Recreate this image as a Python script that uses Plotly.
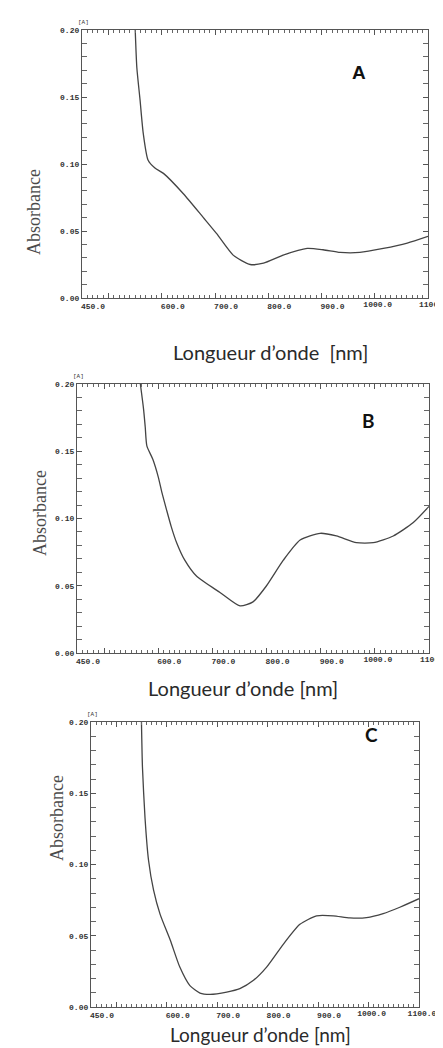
import plotly.graph_objects as go

W, H = 443, 1048
OFF = 8  # the page body adds an 8px margin around the figure

# ---- data ----
wl_A = [550, 553, 559, 565, 574, 587, 603, 640, 678, 703, 734, 766, 791, 828, 873, 903, 935, 972, 1016, 1061, 1100]
abs_A = [0.200, 0.172, 0.148, 0.123, 0.103, 0.097, 0.093, 0.078, 0.060, 0.048, 0.032, 0.025, 0.026, 0.032, 0.037, 0.036, 0.034, 0.034, 0.037, 0.041, 0.046]

wl_B = [567, 573, 576, 579, 590, 600, 607, 615, 624, 634, 649, 671, 714, 751, 775, 800, 831, 862, 899, 929, 966, 997, 1034, 1071, 1100]
abs_B = [0.200, 0.181, 0.168, 0.154, 0.144, 0.131, 0.119, 0.107, 0.094, 0.082, 0.069, 0.057, 0.045, 0.035, 0.038, 0.050, 0.069, 0.084, 0.089, 0.087, 0.082, 0.082, 0.087, 0.097, 0.109]

wl_C = [550, 552, 557, 564, 574, 587, 607, 626, 646, 666, 686, 719, 745, 772, 798, 831, 864, 897, 930, 963, 996, 1029, 1062, 1100]
abs_C = [0.200, 0.168, 0.133, 0.103, 0.082, 0.065, 0.047, 0.028, 0.015, 0.0098, 0.0089, 0.0105, 0.0129, 0.0187, 0.028, 0.044, 0.058, 0.064, 0.064, 0.0625, 0.0627, 0.0655, 0.070, 0.076]

# major ticks; the two right-most labels sit closer to their ticks than the others
x_tickvals = [450, 500, 600, 700, 800, 900, 1000, 1100]
x_ticktext = ["450.0", "", "600.0", "700.0", "800.0", "900.0", "", ""]
x_right_vals = [1000, 1100]
x_right_text_AB = ["1000.0", "1100."]
x_right_text_C = ["1000.0", "1100.0"]
y_tickvals = [0.00, 0.05, 0.10, 0.15, 0.20]
y_ticktext = ["0.00", "0.05", "0.10", "0.15", "0.20"]

panel_labels = ["A", "B", "C"]
x_title = ["Longueur d\u2019onde  [nm]", "Longueur d\u2019onde [nm]", "Longueur d\u2019onde [nm]"]


def fx(px):
    return (px - OFF) / W


def fy(py):
    return 1 - (py - OFF) / H


# ---- layout geometry in page pixels: (left, right, top, bottom) ----
boxes = [(82, 428, 30, 298), (77, 429, 384, 653), (91, 419, 722, 1007)]

fig = go.Figure()
series = [(wl_A, abs_A), (wl_B, abs_B), (wl_C, abs_C)]
tick_font = dict(family="Liberation Mono", size=8, color="#333333", weight="bold")

for i, ((xs, ys), (l, r, t, b)) in enumerate(zip(series, boxes)):
    n = "" if i == 0 else str(i + 1)
    m = str(i + 4)
    fig.add_trace(go.Scatter(x=xs, y=ys, mode="lines", xaxis="x" + n, yaxis="y" + n,
                             line=dict(color="#444444", width=1.3, shape="spline", smoothing=0.6),
                             showlegend=False, hoverinfo="skip"))
    # invisible helper so the overlay label axis gets drawn
    fig.add_trace(go.Scatter(x=x_right_vals, y=[0, 0], mode="markers", xaxis="x" + m, yaxis="y" + n,
                             marker=dict(opacity=0, size=1), showlegend=False, hoverinfo="skip"))
    common = dict(showline=True, linecolor="#555555", linewidth=1.3, mirror="allticks",
                  ticks="inside", ticklen=5, tickcolor="#555555", tickwidth=1, automargin=False,
                  showgrid=False, zeroline=False, tickfont=tick_font)
    fig.layout["xaxis" + n] = dict(
        common, domain=[fx(l), fx(r)], anchor="y" + n, range=[450, 1100],
        tickmode="array", tickvals=x_tickvals, ticktext=x_ticktext,
        ticklabelshift=11,
        minor=dict(dtick=10, ticks="inside", ticklen=2.5, tickcolor="#666666", showgrid=False),
    )
    fig.layout["yaxis" + n] = dict(
        common, domain=[fy(b), fy(t)], anchor="x" + n, range=[0, 0.2],
        tickmode="array", tickvals=y_tickvals, ticktext=y_ticktext,
        minor=dict(dtick=0.01, ticks="inside", ticklen=2.5, tickcolor="#666666", showgrid=False),
    )
    # overlay axis carrying only the two right-most labels
    fig.layout["xaxis" + m] = dict(
        overlaying="x" + n, anchor="y" + n, side="bottom", domain=[fx(l), fx(r)], range=[450, 1100],
        showline=False, ticks="", showgrid=False, zeroline=False, automargin=False,
        tickmode="array", tickvals=x_right_vals,
        ticktext=x_right_text_C if i == 2 else x_right_text_AB,
        ticklabelshift=3, tickfont=tick_font,
    )

annotations = []
absorb_pos = [(22, 167), (28, 513), (45, 863)]
xtitle_pos = [(270, 338), (243, 688), (260, 1021)]
xtitle_size = [20, 20, 19]
letter_pos = [(368, 60), (377, 420), (380, 748)]
for i, (l, r, t, b) in enumerate(boxes):
    annotations.append(dict(x=fx(absorb_pos[i][0]), y=fy(absorb_pos[i][1]), xref="paper", yref="paper",
                            text="Absorbance", textangle=-90, showarrow=False,
                            font=dict(family="Liberation Serif", size=18, color="#4a4a4a")))
    if i == 2:
        annotations.append(dict(x=fx(xtitle_pos[i][0]), y=fy(xtitle_pos[i][1]), xref="paper", yref="paper",
                                yanchor="top", text=x_title[i], showarrow=False,
                                font=dict(family="Lato", size=xtitle_size[i], color="#2a2a2a")))
    else:
        annotations.append(dict(x=fx(xtitle_pos[i][0]), y=fy(xtitle_pos[i][1]), xref="paper", yref="paper",
                                text=x_title[i], showarrow=False,
                                font=dict(family="Lato", size=xtitle_size[i], color="#2a2a2a")))
    annotations.append(dict(x=fx(letter_pos[i][0]), y=fy(letter_pos[i][1]), xref="paper", yref="paper",
                            text="<b>" + panel_labels[i] + "</b>", showarrow=False,
                            font=dict(family="Liberation Sans" if i == 0 else "Lato", size=19, color="#111111")))
    annotations.append(dict(x=fx(l + 1), y=fy(t - 2), xref="paper", yref="paper",
                            text="[A]", showarrow=False, xanchor="center", yanchor="bottom",
                            font=dict(family="Liberation Mono", size=6, color="#333333")))

fig.update_layout(width=W, height=H, margin=dict(l=0, r=0, t=0, b=0, autoexpand=False),
                  paper_bgcolor="white", plot_bgcolor="white", annotations=annotations)

fig.write_html("out.html")
